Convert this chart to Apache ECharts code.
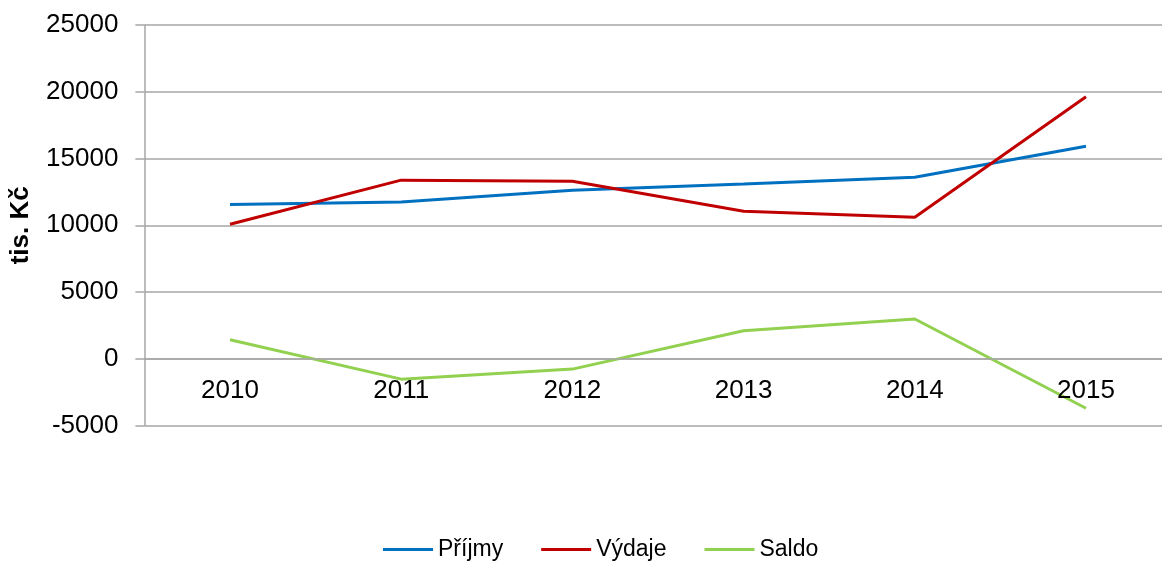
<!DOCTYPE html>
<html>
<head>
<meta charset="utf-8">
<script src="https://cdn.jsdelivr.net/npm/echarts@6/dist/echarts.min.js"></script>
<style>
html,body{margin:0;padding:0;background:#fff;}
#chart{width:1162px;height:561px;}
</style>
</head>
<body>
<div id="chart"></div>
<script>
const categories = ['2010', '2011', '2012', '2013', '2014', '2015'];
const prijmy = [11550, 11750, 12620, 13100, 13600, 15920];
const vydaje = [10080, 13380, 13300, 11050, 10600, 19630];
const saldo = [1430, -1520, -770, 2100, 2980, -3700];
const yTicks = { min: -5000, max: 25000, interval: 5000 };

const font = '"Liberation Sans", Arial, sans-serif';
const chart = echarts.init(document.getElementById('chart'), null, { renderer: 'canvas' });
chart.setOption({
  animation: false,
  backgroundColor: '#ffffff',
  grid: { left: 144.4, right: -9.6, top: 25, bottom: 135.4, containLabel: false, outerBoundsMode: 'none' },
  legend: {
    top: 533,
    left: 378,
    icon: 'rect',
    itemWidth: 50,
    itemHeight: 3,
    itemGap: 38,
    textStyle: { fontFamily: font, fontSize: 23, color: '#000' },
    data: ['Příjmy', 'Výdaje', 'Saldo']
  },
  xAxis: {
    type: 'category',
    data: categories,
    boundaryGap: true,
    z: 5,
    axisLine: { show: true, onZero: true, lineStyle: { color: '#A6A6A6', width: 1.5 } },
    axisTick: { show: false },
    axisLabel: { margin: -48, fontFamily: font, fontSize: 26, color: '#000' },
    splitLine: { show: false }
  },
  yAxis: {
    type: 'value',
    min: yTicks.min,
    max: yTicks.max,
    interval: yTicks.interval,
    name: 'tis. Kč',
    nameLocation: 'middle',
    nameGap: 111,
    nameRotate: 90,
    nameTextStyle: { fontFamily: font, fontSize: 26, fontWeight: 'bold', color: '#000' },
    axisLine: { show: true, lineStyle: { color: '#A6A6A6', width: 1.5 } },
    axisTick: { show: true, length: 9, lineStyle: { color: '#A6A6A6', width: 1.5 } },
    axisLabel: { margin: 26, fontFamily: font, fontSize: 26, color: '#000', formatter: v => String(v) },
    splitLine: { show: true, lineStyle: { color: '#A6A6A6', width: 1.5 } }
  },
  series: [
    { name: 'Příjmy', type: 'line', data: prijmy, symbol: 'none', lineStyle: { color: '#0070C0', width: 3 }, itemStyle: { color: '#0070C0' } },
    { name: 'Výdaje', type: 'line', data: vydaje, symbol: 'none', lineStyle: { color: '#C00000', width: 3 }, itemStyle: { color: '#C00000' } },
    { name: 'Saldo', type: 'line', data: saldo, symbol: 'none', lineStyle: { color: '#92D050', width: 3 }, itemStyle: { color: '#92D050' } }
  ]
});
</script>
</body>
</html>
